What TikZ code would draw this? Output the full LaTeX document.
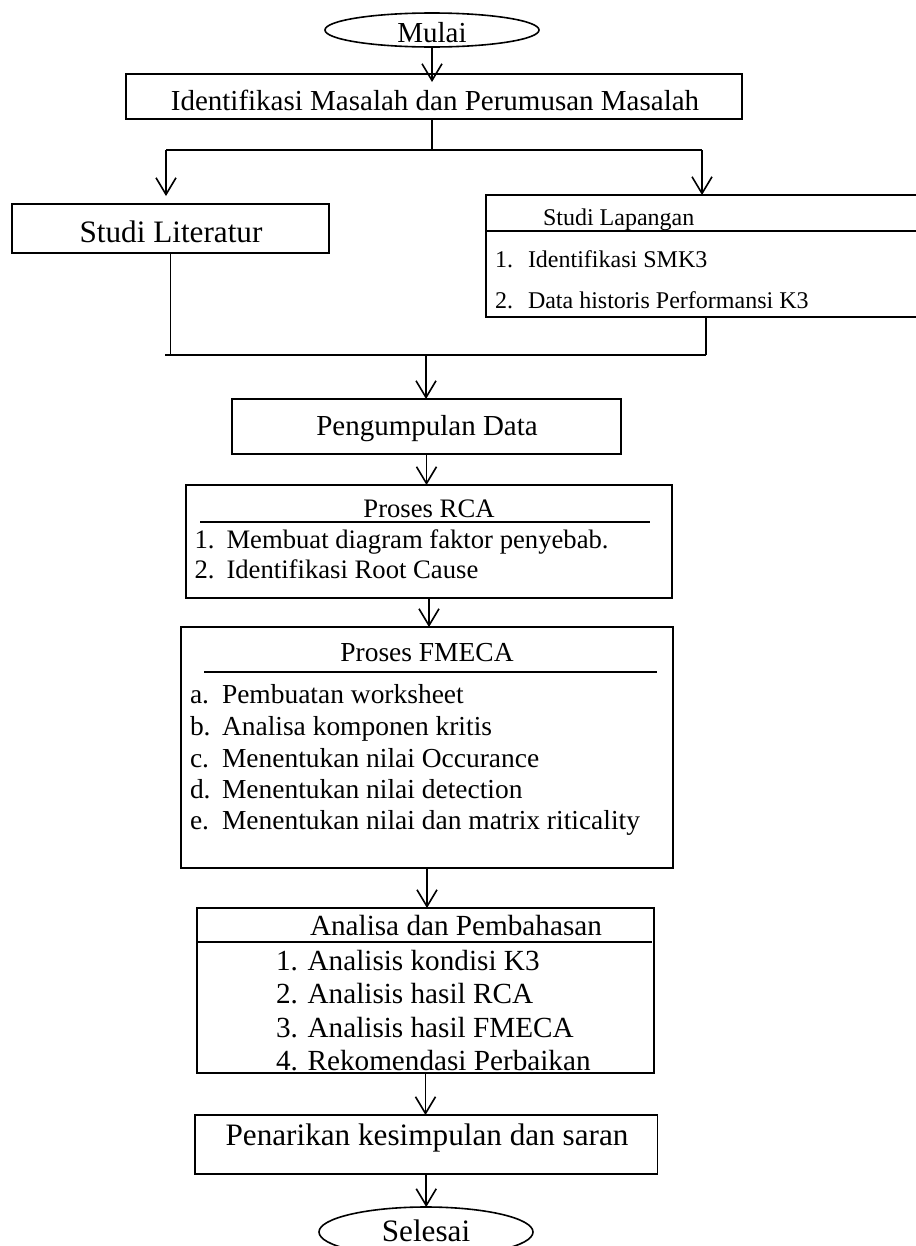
\documentclass[tikz,border=0pt]{standalone}
\usepackage{fontspec}
\setmainfont{Liberation Serif}
\usetikzlibrary{arrows.meta,shapes.geometric,fit,calc}
\begin{document}
\begin{tikzpicture}[x=0.75pt,y=-0.75pt,
  box/.style={draw,line width=1.2pt,inner sep=0pt,outer sep=0pt,rectangle},
  oval/.style={draw,line width=1.2pt,ellipse,inner sep=0pt,outer sep=0pt},
  thinline/.style={line width=1.3pt},
  heavy/.style={line width=2.1pt},
  arr/.style={line width=1.2pt,-{Straight Barb[length=12.5pt,width=15pt,line width=1.2pt]}},
  txt/.style={inner sep=0pt,outer sep=0pt},
  fa/.style={font=\fontsize{21.75pt}{26pt}\selectfont},
  fb/.style={font=\fontsize{23.4pt}{28pt}\selectfont},
  fc/.style={font=\fontsize{18pt}{21pt}\selectfont},
  fd/.style={font=\fontsize{20pt}{24pt}\selectfont},
  fe/.style={font=\fontsize{20.6pt}{24pt}\selectfont},
  ff/.style={font=\fontsize{21.9pt}{26pt}\selectfont},
]
\useasboundingbox (0,0) rectangle (916,1246);

% Mulai
\node[oval,minimum width=160.5pt,minimum height=25.5pt] (mulai) at (432,30) {};
\node[txt,fa,anchor=base] (mulaitxt) at (432,42) {Mulai};

% Identifikasi
\node[box,fit={(126,74) (742,119)}] (ident) {};
\node[txt,fa,anchor=base] (identtxt) at (435,110) {Identifikasi Masalah dan Perumusan Masalah};

% Studi Literatur
\node[box,fit={(12,204) (329,253)}] (lit) {};
\node[txt,fb,anchor=base] (littxt) at (171,242) {Studi Literatur};

% Studi Lapangan
\node[box,fit={(486,195) (930,317)}] (lap) {};
\node[txt,fc,anchor=base west] (laptxt) at (543,225) {Studi Lapangan};
\coordinate (lapsepL) at (486,231);
\coordinate (lapsepR) at (930,231);
\draw[heavy] (lapsepL) -- (lapsepR);
\node[txt,fc,anchor=base west] (lap1n) at (495,267) {1.};
\node[txt,fc,anchor=base west] (lap1) at (528,267) {Identifikasi SMK3};
\node[txt,fc,anchor=base west] (lap2n) at (495,308) {2.};
\node[txt,fc,anchor=base west] (lap2) at (528,308) {Data historis Performansi K3};

% Pengumpulan Data
\node[box,fit={(232,399) (621,454)}] (peng) {};
\node[txt,fa,anchor=base] (pengtxt) at (427,435) {Pengumpulan Data};

% Proses RCA
\node[box,fit={(186,485) (672,598)}] (rca) {};
\node[txt,fd,anchor=base] (rcatxt) at (429,517) {Proses RCA};
\coordinate (rcasepL) at (200,522);
\coordinate (rcasepR) at (650,522);
\draw[heavy] (rcasepL) -- (rcasepR);
\node[txt,fd,anchor=base west] (rca1n) at (194.5,548) {1.};
\node[txt,fd,anchor=base west] (rca1) at (226.5,548) {Membuat diagram faktor penyebab.};
\node[txt,fd,anchor=base west] (rca2n) at (194.5,578) {2.};
\node[txt,fd,anchor=base west] (rca2) at (226.5,578) {Identifikasi Root Cause};

% Proses FMECA
\node[box,fit={(181,627) (673,868)}] (fmeca) {};
\node[txt,fe,anchor=base] (fmecatxt) at (427,661) {Proses FMECA};
\coordinate (fmsepL) at (204,672);
\coordinate (fmsepR) at (657,672);
\draw[heavy] (fmsepL) -- (fmsepR);
\node[txt,fe,anchor=base west] (fmAn) at (190,703) {a.};
\node[txt,fe,anchor=base west] (fmA) at (222,703) {Pembuatan worksheet};
\node[txt,fe,anchor=base west] (fmBn) at (190,735) {b.};
\node[txt,fe,anchor=base west] (fmB) at (222,735) {Analisa komponen kritis};
\node[txt,fe,anchor=base west] (fmCn) at (190,767) {c.};
\node[txt,fe,anchor=base west] (fmC) at (222,767) {Menentukan nilai Occurance};
\node[txt,fe,anchor=base west] (fmDn) at (190,798) {d.};
\node[txt,fe,anchor=base west] (fmD) at (222,798) {Menentukan nilai detection};
\node[txt,fe,anchor=base west] (fmEn) at (190,829) {e.};
\node[txt,fe,anchor=base west] (fmE) at (222,829) {Menentukan nilai dan matrix riticality};

% Analisa dan Pembahasan
\node[box,fit={(197,908) (654,1073)}] (anal) {};
\node[txt,ff,anchor=base west] (analtxt) at (310,935) {Analisa dan Pembahasan};
\coordinate (ansepL) at (197,942);
\coordinate (ansepR) at (652,942);
\draw[heavy] (ansepL) -- (ansepR);
\node[txt,ff,anchor=base west] (an1) at (276,970) {1. Analisis kondisi K3};
\node[txt,ff,anchor=base west] (an2) at (276,1003) {2. Analisis hasil RCA};
\node[txt,ff,anchor=base west] (an3) at (276,1037) {3. Analisis hasil FMECA};
\node[txt,ff,anchor=base west] (an4) at (276,1070) {4. Rekomendasi Perbaikan};

% Penarikan
\node[box,fit={(195,1115) (657.5,1174)}] (pen) {};
\node[txt,fb,anchor=base] (pentxt) at (427,1145) {Penarikan kesimpulan dan saran};

% Selesai
\node[oval,minimum width=160.5pt,minimum height=37.5pt] (sel) at (426,1232) {};
\node[txt,fb,anchor=base] (seltxt) at (426,1241) {Selesai};

% connectors
\coordinate (a1) at ($(mulai.south |- ident.north)+(0,8)$);
\draw[arr] (mulai.south) -- (a1);

\coordinate (br) at (432,150);
\coordinate (brL) at (166,150);
\coordinate (brR) at (702,150);
\draw[heavy] (br |- ident.south) -- (br);
\draw[heavy] (brL) -- (brR);
\coordinate (a2) at ($(brL |- lit.north)+(0,-8)$);
\draw[arr] (brL) -- (a2);
\draw[arr] (brR) -- (brR |- lap.north);

\coordinate (mL) at (165,355);
\coordinate (mR) at (706,355);
\coordinate (mC) at (426,355);
\draw[thinline] (lit.south) -- (lit.south |- mL);
\draw[heavy] (mR |- lap.south) -- (mR);
\draw[heavy] (mL) -- (mR);
\draw[arr] (mC) -- (mC |- peng.north);

\draw[arr] (peng.south) -- (peng.south |- rca.north);
\draw[arr] (rca.south) -- (rca.south |- fmeca.north);
\draw[arr] (fmeca.south) -- (fmeca.south |- anal.north);
\draw[arr] (anal.south) -- (anal.south |- pen.north);
\draw[arr] (pen.south) -- (pen.south |- sel.north);
\end{tikzpicture}
\end{document}
